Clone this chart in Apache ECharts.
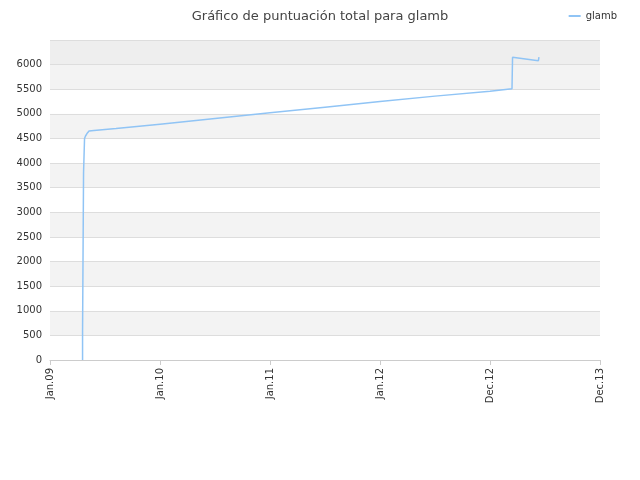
<!DOCTYPE html><html><head><meta charset="utf-8"><script src="https://cdn.jsdelivr.net/npm/echarts@6/dist/echarts.min.js"></script></head><body style="margin:0"><div id="c" style="width:640px;height:480px"></div><script>
const xLabels=['Jan.09','Jan.10','Jan.11','Jan.12','Dec.12','Dec.13'];
const xs=[0.296,0.296,0.305,0.305,0.314,0.314,0.323,0.336,0.355,0.40,0.6,1.0,1.5,2.0,2.5,3.0,3.5,4.0,4.2,4.205,4.205,4.22,4.44,4.445];
const scores=[0,550,550,3800,3800,4500,4550,4600,4650,4660,4700,4790,4905,5020,5135,5250,5360,5460,5510,5510,6150,6180,6080,6150];
const bands=['#fff','#f3f3f3','#fff','#f3f3f3','#fff','#f3f3f3','#fff','#f3f3f3','#fff','#f3f3f3','#fff','#f3f3f3','#eeeeee'];
const ch=echarts.init(document.getElementById('c'));
ch.setOption({animation:false,
title:{text:'Gráfico de puntuación total para glamb',left:'center',top:5,textStyle:{fontSize:13,fontWeight:'normal',color:'#444',fontFamily:'DejaVu Sans'}},
legend:{right:18,top:6,itemWidth:12,itemHeight:2,icon:'rect',textStyle:{fontSize:10,color:'#333',fontFamily:'DejaVu Sans'},data:['glamb']},
grid:{left:50,right:40,top:40,bottom:120},
xAxis:{type:'value',min:0,max:5,interval:1,axisLine:{lineStyle:{color:'#ccc'}},axisTick:{show:true,lineStyle:{color:'#ccc'}},splitLine:{show:false},
axisLabel:{rotate:90,color:'#333',fontSize:10,fontFamily:'DejaVu Sans',formatter:v=>xLabels[Math.round(v)]}},
yAxis:{type:'value',min:0,max:6500,interval:500,axisLine:{show:false},axisTick:{show:false},splitLine:{lineStyle:{color:'#ddd'}},
splitArea:{show:true,areaStyle:{color:bands}},axisLabel:{color:'#333',fontSize:10,fontFamily:'DejaVu Sans',formatter:v=>v>=6500?'':String(v)}},
series:[{name:'glamb',type:'line',showSymbol:false,lineStyle:{width:1.5,color:'#90c4f5'},itemStyle:{color:'#90c4f5'},data:xs.map((x,i)=>[x,scores[i]])}]});
</script></body></html>
